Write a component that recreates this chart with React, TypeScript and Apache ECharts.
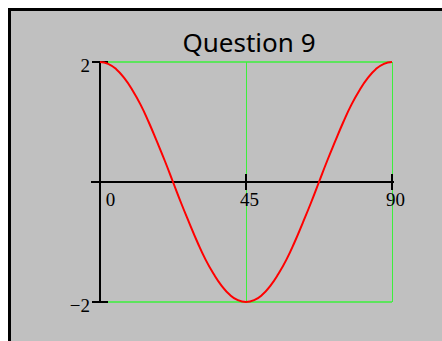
import React, { useEffect, useRef } from "react";
import * as echarts from "echarts";

const titleText = "Question 9";
const xValues = [
  0, 2.5, 5, 7.5, 10, 12.5, 15, 17.5, 20, 22.5, 25, 27.5, 30, 32.5, 35, 37.5, 40, 42.5, 45,
  47.5, 50, 52.5, 55, 57.5, 60, 62.5, 65, 67.5, 70, 72.5, 75, 77.5, 80, 82.5, 85, 87.5, 90,
];
const yValues = [
  2, 1.97, 1.88, 1.73, 1.53, 1.29, 1.0, 0.68, 0.35, 0, -0.35, -0.68, -1.0, -1.29, -1.53, -1.73, -1.88, -1.97, -2,
  -1.97, -1.88, -1.73, -1.53, -1.29, -1.0, -0.68, -0.35, 0, 0.35, 0.68, 1.0, 1.29, 1.53, 1.73, 1.88, 1.97, 2,
];
const xMin = 0;
const xMax = 90;
const xStep = 45;
const yMin = -2;
const yMax = 2;
const yStep = 4;

const GREEN = "#3cf03c";
const SERIF = "'Liberation Serif', 'Times New Roman', serif";
const GRID_TOP = 62;
const GRID_BOTTOM = 39;
const CHART_H = 341;

export default function App() {
  const ref = useRef<HTMLDivElement>(null);
  useEffect(() => {
    if (!ref.current) return;
    const chart = echarts.init(ref.current, null, { renderer: "svg" });
    const points = xValues.map((x, i) => [x, yValues[i]]);
    const gridH = CHART_H - GRID_TOP - GRID_BOTTOM;
    const zeroOffset = -gridH * ((0 - yMin) / (yMax - yMin));
    const zeroOffsetTop = -gridH * ((yMax - 0) / (yMax - yMin));
    const baseX = {
      type: "value" as const,
      min: xMin,
      max: xMax,
      interval: xStep,
      gridIndex: 0,
    };
    const baseY = {
      type: "value" as const,
      min: yMin,
      max: yMax,
      interval: yStep,
      gridIndex: 0,
    };
    const bg = [
      { type: "rect", z: -10, shape: { x: 8, y: 8, width: 434, height: 333 }, style: { fill: "#000000" } },
      { type: "rect", z: -9, shape: { x: 11, y: 11, width: 431, height: 330 }, style: { fill: "#c0c0c0" } },
    ];
    chart.setOption({
      animation: false,
      backgroundColor: "#ffffff",
      title: {
        text: titleText,
        left: 244,
        top: 24,
        textAlign: "center",
        textStyle: {
          fontFamily: "'Noto Sans', sans-serif",
          fontSize: 26,
          fontWeight: "normal",
          color: "#000000",
        },
      },
      graphic: bg,
      grid: { left: 100, right: 50, top: GRID_TOP, bottom: GRID_BOTTOM, containLabel: false },
      xAxis: [
        {
          ...baseX,
          position: "bottom",
          offset: zeroOffset,
          axisLine: { show: true, onZero: false, lineStyle: { color: "#000000", width: 2 } },
          axisTick: { show: true, inside: false, length: 8, lineStyle: { color: "#000000", width: 2 } },
          axisLabel: {
            show: true,
            margin: 8,
            fontFamily: SERIF,
            fontSize: 19,
            color: "#000000",
            formatter: (v: number) => (v === 0 ? "{z|" + v + "}" : "{n|" + v + "}"),
            rich: {
              z: { fontFamily: SERIF, fontSize: 19, color: "#000000", padding: [0, 0, 0, 21] },
              n: { fontFamily: SERIF, fontSize: 19, color: "#000000", padding: [0, 0, 0, 7] },
            },
          },
          splitLine: { show: true, lineStyle: { color: GREEN, width: 1 } },
        },
        {
          ...baseX,
          position: "top",
          offset: zeroOffsetTop,
          axisLine: { show: false, onZero: false },
          axisTick: { show: true, inside: false, length: 8, lineStyle: { color: "#000000", width: 2 } },
          axisLabel: { show: false },
          splitLine: { show: false },
        },
      ],
      yAxis: [
        {
          ...baseY,
          position: "left",
          axisLine: { show: true, onZero: false, lineStyle: { color: "#000000", width: 2 } },
          axisTick: { show: true, inside: false, length: 8, lineStyle: { color: "#000000", width: 2 } },
          axisLabel: {
            show: true,
            margin: 10,
            color: "#000000",
            formatter: (v: number) => "{a|" + String(v).replace("-", "\u2212") + "}",
            rich: {
              a: { fontFamily: SERIF, fontSize: 19, color: "#000000", padding: [7, 0, 0, 0] },
            },
          },
          splitLine: { show: true, lineStyle: { color: GREEN, width: 1.5 } },
        },
        {
          ...baseY,
          position: "left",
          axisLine: { show: false, onZero: false },
          axisTick: { show: true, inside: true, length: 8, lineStyle: { color: "#000000", width: 2 } },
          axisLabel: { show: false },
          splitLine: { show: false },
        },
      ],
      series: [
        {
          type: "line",
          data: points,
          xAxisIndex: 0,
          yAxisIndex: 0,
          smooth: true,
          showSymbol: false,
          symbol: "none",
          lineStyle: { color: "#ff0000", width: 2 },
          z: 5,
        },
      ],
    });
    const origin = chart.convertToPixel({ gridIndex: 0 }, [xMin, 0]) as number[];
    const end = chart.convertToPixel({ gridIndex: 0 }, [xMax, 0]) as number[];
    if (origin && end) {
      chart.setOption({
        graphic: [
          ...bg,
          {
            type: "line",
            z: 10,
            shape: { x1: origin[0] - 9, y1: origin[1], x2: origin[0], y2: origin[1] },
            style: { stroke: "#000000", lineWidth: 2 },
          },
          {
            type: "line",
            z: 10,
            shape: { x1: end[0], y1: end[1], x2: end[0] + 2, y2: end[1] },
            style: { stroke: "#000000", lineWidth: 2 },
          },
        ],
      });
    }
    return () => chart.dispose();
  }, []);
  return (
    <div
      ref={ref}
      style={{ position: "absolute", left: 0, top: 0, width: 442, height: 341 }}
    />
  );
}
